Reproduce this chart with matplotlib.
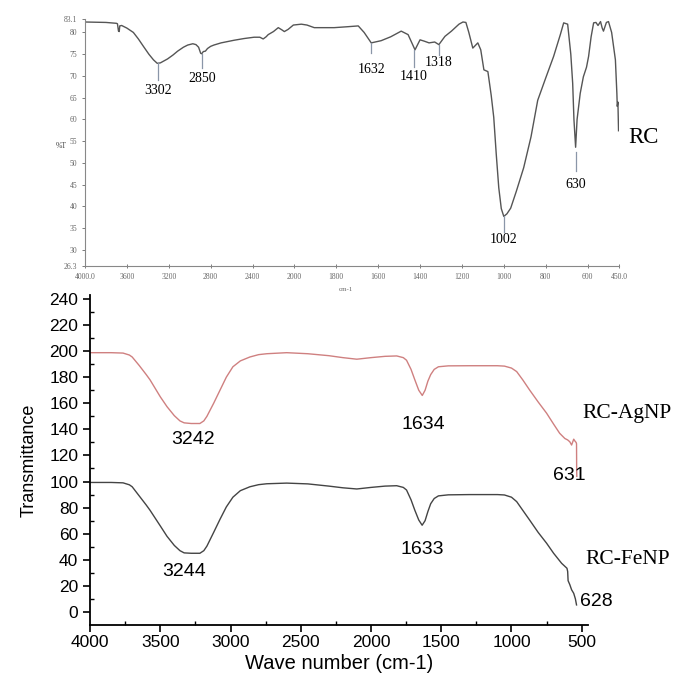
import numpy as np
import matplotlib
matplotlib.use("Agg")
import matplotlib.pyplot as plt

# ---- RC 光谱（上图）
rc_wn = [4000, 3800, 3700, 3690, 3680, 3673, 3668, 3650, 3600, 3538, 3490, 3442, 3390, 3346,
         3310, 3280, 3250, 3212, 3160, 3115, 3060, 3019, 2970, 2940, 2915, 2895, 2885, 2870,
         2850, 2830, 2800, 2769, 2700, 2577, 2480, 2385, 2330, 2298, 2270, 2250, 2200, 2154,
         2120, 2096, 2060, 2010, 1967, 1940, 1905, 1810, 1750, 1695, 1667, 1633, 1586, 1540,
         1490, 1457, 1424, 1400, 1380, 1357, 1330, 1310, 1281, 1250, 1214, 1195, 1181, 1167,
         1148, 1124, 1110, 1095, 1076, 1060, 1048, 1036, 1024, 1012, 1000, 985, 967, 940, 905,
         870, 838, 800, 762, 730, 714, 695, 680, 671, 665, 657, 650, 635, 620, 605, 595, 583,
         571, 560, 550, 538, 530, 524, 510, 500, 485, 467, 460, 458, 455, 452]
rc_t = [82.4, 82.3, 82.1, 82.0, 80.3, 80.2, 81.5, 81.6, 81.0, 80.0, 78.5, 76.8, 75.0, 73.7,
        72.9, 73.0, 73.4, 73.9, 74.8, 75.7, 76.6, 77.1, 77.4, 77.2, 76.6, 75.2, 75.1, 75.6,
        75.7, 76.3, 76.8, 77.1, 77.6, 78.2, 78.6, 78.9, 78.9, 78.5, 79.0, 79.5, 80.2, 81.1,
        80.6, 80.2, 80.7, 81.7, 81.9, 81.7, 81.1, 81.1, 81.3, 81.5, 80.0, 77.6, 78.1, 79.0,
        80.3, 79.5, 76.0, 78.3, 78.0, 77.6, 77.8, 77.2, 79.1, 80.3, 81.9, 82.4, 82.3, 80.0,
        76.4, 77.6, 76.0, 71.4, 71.0, 65.5, 60.5, 52.0, 44.3, 39.5, 37.7, 38.3, 39.6, 43.5, 48.9,
        56.0, 64.4, 69.5, 74.5, 79.5, 82.2, 81.9, 75.0, 68.3, 60.0, 53.6, 60.0, 66.0, 69.8, 72.0,
        74.5, 79.0, 82.2, 82.3, 81.6, 82.5, 81.0, 80.3, 82.3, 82.5, 80.0, 73.7, 66.0, 63.0, 64.0, 57.4]

# 峰标注：标签, 画线位置, 线上端, 线下端, 文字中心
rc_peaks = ["3302", "2850", "1632", "1410", "1318", "1002", "630"]
rc_peak_x = [3298, 2885, 1633, 1429, 1310, 1000, 657]
rc_line_top = [72.9, 75.0, 77.6, 76.0, 77.2, 37.7, 52.5]
rc_line_bot = [69.1, 71.9, 75.3, 72.1, 74.9, 34.2, 48.1]
rc_text_y = [66.7, 69.5, 71.4, 69.8, 73.0, 32.3, 45.1]

# ---- RC-AgNP / RC-FeNP（下图）
ag_wn = [4000, 3850, 3765, 3720, 3700, 3650, 3600, 3573, 3500, 3452, 3400, 3360, 3330, 3280,
         3218, 3190, 3168, 3120, 3075, 3030, 2983, 2930, 2862, 2800, 2742, 2600, 2450, 2300,
         2200, 2101, 2000, 1900, 1817, 1770, 1747, 1715, 1688, 1660, 1635, 1615, 1595, 1575,
         1550, 1520, 1450, 1300, 1100, 1050, 1000, 963, 920, 871, 810, 750, 700, 657, 620,
         600, 585, 572, 562, 557, 548, 540, 537, 536, 535]
ag_t = [198.8, 198.8, 198.5, 197, 195.5, 189, 182, 178, 165, 157.4, 150.5, 146.5, 145, 144.5,
        144.5, 146.5, 150, 160, 170, 180, 188, 192.5, 195.5, 197.3, 198, 198.8, 198, 196.5,
        195, 193.8, 195, 196, 196.3, 195, 193, 186, 178, 170, 166, 170, 177, 182,
        186, 188, 188.7, 188.8, 188.8, 188.5, 187, 184.3, 178, 170.2, 161, 152.4, 144, 137, 133,
        131.9, 130.5, 128, 131, 132.5, 131, 130, 129, 110, 104]

fe_wn = [4000, 3850, 3765, 3720, 3700, 3650, 3600, 3573, 3500, 3452, 3400, 3360, 3330, 3280,
         3218, 3190, 3168, 3120, 3075, 3030, 2983, 2930, 2862, 2800, 2742, 2600, 2450, 2300,
         2200, 2101, 2000, 1900, 1817, 1770, 1747, 1715, 1688, 1660, 1636, 1615, 1595, 1575,
         1550, 1520, 1450, 1300, 1100, 1050, 1000, 963, 920, 871, 810, 750, 700, 643, 620,
         605, 600, 597, 585, 572, 557, 545, 537]
fe_t = [99.3, 99.3, 99, 97.5, 96, 89, 82, 78, 66, 58, 51, 47, 45.3, 45,
        45, 47, 50.5, 61, 71, 80.5, 88, 93, 96, 97.6, 98.3, 98.8, 98.2, 96.5,
        95.2, 94.3, 95.5, 96.5, 96.8, 95.5, 93.5, 86, 78, 70.5, 66.5, 70, 77, 83,
        87, 89, 89.8, 90, 90, 89.7, 88, 84.6, 78, 70.5, 61, 52.7, 45, 37.3, 35,
        33.5, 31, 24, 21, 17, 14.3, 10, 5.4]

bot_labels = ["3242", "3244", "1634", "1633", "631", "628"]
bot_label_x = [3267, 3331, 1631, 1638, 586, 394]
bot_label_y = [132.6, 31.4, 144, 48, 105, 8]


def fwd(x):
    x = np.asarray(x, float)
    return np.where(x >= 2000, x, 2 * x - 2000)


def inv(u):
    u = np.asarray(u, float)
    return np.where(u >= 2000, u, (u + 2000) / 2)


fig = plt.figure(figsize=(6.81, 6.77), dpi=100)

# 上图
ax1 = fig.add_axes([0.1248, 0.6071, 0.7841, 0.3649])
ax1.set_xscale('function', functions=(fwd, inv))
ax1.plot(rc_wn, rc_t, color='#555555', lw=1.0)
ax1.set_xlim(4000, 450)
ax1.set_ylim(26.3, 83.1)
xt = [4000, 3600, 3200, 2800, 2400, 2000, 1800, 1600, 1400, 1200, 1000, 800, 600, 450]
ax1.set_xticks(xt)
ax1.set_xticklabels(['4000.0'] + [str(v) for v in xt[1:-1]] + ['450.0'])
yt = [83.1, 80, 75, 70, 65, 60, 55, 50, 45, 40, 35, 30, 26.3]
ax1.set_yticks(yt)
ax1.set_yticklabels([str(v) for v in yt])
ax1.minorticks_off()
for s in ['top', 'right']:
    ax1.spines[s].set_visible(False)
for s in ['left', 'bottom']:
    ax1.spines[s].set_color('#888888')
ax1.tick_params(axis='both', labelsize=5.5, colors='#666666', length=2, width=0.6,
                labelfontfamily='Liberation Serif')
ax1.tick_params(axis='x', direction='inout', length=3)
ax1.set_ylabel('%T', fontsize=5.5, family='Liberation Serif', rotation=0, color='#444444')
ax1.yaxis.set_label_coords(-0.045, 0.47)
fig.text(0.508, 0.572, 'cm-1', fontsize=5, family='Liberation Serif', color='#666666',
         ha='center', va='center')
for lab, px, yt0, yb0, ty in zip(rc_peaks, rc_peak_x, rc_line_top, rc_line_bot, rc_text_y):
    ax1.plot([px, px], [yt0, yb0], color='#8a96a8', lw=0.9)
    ax1.text(px, ty, lab, fontsize=10, family='Liberation Serif', ha='center', va='center')
ax1.text(1.017, 0.52, 'RC', transform=ax1.transAxes, fontsize=16.5,
         family='Liberation Serif', ha='left', va='center')

# 下图
ax2 = fig.add_axes([0.1322, 0.0768, 0.7313, 0.4874])
ax2.plot(ag_wn, ag_t, color='#cf8080', lw=1.0)
ax2.plot(fe_wn, fe_t, color='#444444', lw=1.0)
ax2.set_xlim(4000, 455)
ax2.set_ylim(-10, 243)
ax2.set_xticks([4000, 3500, 3000, 2500, 2000, 1500, 1000, 500])
ax2.set_xticks([3750, 3250, 2750, 2250, 1750, 1250, 750], minor=True)
ax2.set_yticks(range(0, 241, 20))
ax2.set_yticks(range(10, 241, 20), minor=True)
for s in ['top', 'right']:
    ax2.spines[s].set_visible(False)
for s in ['left', 'bottom']:
    ax2.spines[s].set_linewidth(1.3)
ax2.tick_params(axis='both', which='major', labelsize=12.5, direction='out', length=5, width=1.2,
                labelfontfamily='Liberation Sans')
ax2.tick_params(axis='x', which='major', pad=2)
ax2.tick_params(axis='both', which='minor', direction='in', length=3, width=1.0)
ax2.set_ylabel('Transmittance', fontsize=13, family='Liberation Sans', labelpad=8)
ax2.set_xlabel('Wave number (cm-1)', fontsize=14.5, family='Liberation Sans', labelpad=3)
for lab, lx, ly in zip(bot_labels, bot_label_x, bot_label_y):
    ax2.text(lx, ly, lab, fontsize=14, family='Liberation Sans', ha='center', va='center')
ax2.text(0.988, 0.64, 'RC-AgNP', transform=ax2.transAxes, fontsize=15.5,
         family='Liberation Serif', ha='left', va='center')
ax2.text(0.994, 0.2, 'RC-FeNP', transform=ax2.transAxes, fontsize=15.5,
         family='Liberation Serif', ha='left', va='center')

fig.savefig('out.png', dpi=100)
